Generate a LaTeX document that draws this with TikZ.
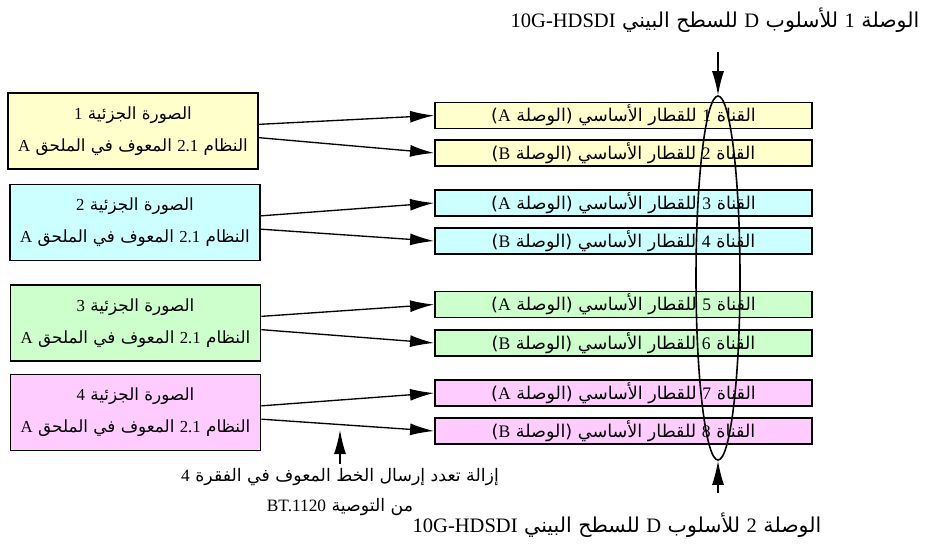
\documentclass[tikz,border=0pt]{standalone}
\usepackage{fontspec}
\setmainfont{Liberation Serif}
\newfontfamily\arabicfont[Script=Arabic]{DejaVu Sans}
\TeXXeTstate=1
\usepackage{tikz}
\usetikzlibrary{arrows.meta, shapes.geometric, positioning}

\definecolor{subyellow}{HTML}{FFFFCC}
\definecolor{subcyan}{HTML}{CCFFFF}
\definecolor{subgreen}{HTML}{CCFFCC}
\definecolor{submagenta}{HTML}{FFCCFF}

\newcommand\artxt[1]{{\arabicfont\beginR #1\endR}}
\newcommand\latn[1]{{\rmfamily #1}}

\begin{document}
\begin{tikzpicture}[
      x=0.75pt, y=-0.75pt,
      >={Latex[length=18pt,width=9pt]},
      subimg/.style = {
        draw,
        line width=1.4pt,
        minimum width=187.5pt,
        minimum height=57pt,
        align=center,
        font=\fontsize{12.6}{24}\selectfont
      },
      chan/.style = {
        draw,
        line width=1.4pt,
        minimum width=282.75pt,
        minimum height=19.5pt,
        inner sep=0pt,
        font=\fontsize{13.2}{14}\selectfont
      },
      feed/.style = {->, line width=1pt},
      lbl/.style = {font=\fontsize{15.4}{18}\selectfont, align=center}
    ]
    \useasboundingbox (0,0) rectangle (934,544);

    % sub-images
    \node[subimg, fill=subyellow]  (sub1) at (133,131)   {\artxt{الصورة الجزئية \latn{1}}\\\artxt{النظام \latn{2.1} المعوف في الملحق \latn{A}}};
    \node[subimg, fill=subcyan]    (sub2) at (135,222.5) {\artxt{الصورة الجزئية \latn{2}}\\\artxt{النظام \latn{2.1} المعوف في الملحق \latn{A}}};
    \node[subimg, fill=subgreen]   (sub3) at (135.5,323) {\artxt{الصورة الجزئية \latn{3}}\\\artxt{النظام \latn{2.1} المعوف في الملحق \latn{A}}};
    \node[subimg, fill=submagenta] (sub4) at (135.5,412.5) {\artxt{الصورة الجزئية \latn{4}}\\\artxt{النظام \latn{2.1} المعوف في الملحق \latn{A}}};

    % basic streams
    \node[chan, fill=subyellow]  (ch1) at (623.5,115.5) {\artxt{القناة \latn{1} للقطار الأساسي (الوصلة \latn{A})}};
    \node[chan, fill=subyellow]  (ch2) at (623.5,153)   {\artxt{القناة \latn{2} للقطار الأساسي (الوصلة \latn{B})}};
    \node[chan, fill=subcyan]    (ch3) at (623.5,203)   {\artxt{القناة \latn{3} للقطار الأساسي (الوصلة \latn{A})}};
    \node[chan, fill=subcyan]    (ch4) at (623.5,241)   {\artxt{القناة \latn{4} للقطار الأساسي (الوصلة \latn{B})}};
    \node[chan, fill=subgreen]   (ch5) at (623.5,304.5) {\artxt{القناة \latn{5} للقطار الأساسي (الوصلة \latn{A})}};
    \node[chan, fill=subgreen]   (ch6) at (623.5,343)   {\artxt{القناة \latn{6} للقطار الأساسي (الوصلة \latn{B})}};
    \node[chan, fill=submagenta] (ch7) at (623.5,393)   {\artxt{القناة \latn{7} للقطار الأساسي (الوصلة \latn{A})}};
    \node[chan, fill=submagenta] (ch8) at (623.5,431)   {\artxt{القناة \latn{8} للقطار الأساسي (الوصلة \latn{B})}};

    \node[draw, ellipse, line width=1.2pt, minimum width=33pt, minimum height=273pt, inner sep=0pt] (link) at (718,278) {};

    \draw[feed] ([yshift=5pt]sub1.east)  -- (ch1.west);
    \draw[feed] ([yshift=-5pt]sub1.east) -- (ch2.west);
    \draw[feed] ([yshift=5pt]sub2.east)  -- (ch3.west);
    \draw[feed] ([yshift=-5pt]sub2.east) -- (ch4.west);
    \draw[feed] ([yshift=5pt]sub3.east)  -- (ch5.west);
    \draw[feed] ([yshift=-5pt]sub3.east) -- (ch6.west);
    \draw[feed] ([yshift=5pt]sub4.east)  -- (ch7.west);
    \draw[feed] ([yshift=-5pt]sub4.east) -- (ch8.west);

    % links
    \node[lbl] (link1lbl) at (715,20) {\artxt{الوصلة \latn{1} للأسلوب \latn{D} للسطح البيني \latn{10G-HDSDI}}};
    \coordinate (link1in) at (718,52);
    \draw[feed] (link1in) -- (link.north);

    \node[lbl] (link2lbl) at (617,525) {\artxt{الوصلة \latn{2} للأسلوب \latn{D} للسطح البيني \latn{10G-HDSDI}}};
    \coordinate (link2in) at (718,493);
    \draw[feed] (link2in) -- (link.south);

    % demultiplexing note
    \node[lbl, font=\fontsize{13}{22}\selectfont] (demuxlbl) at (340,492) {\artxt{إزالة تعدد إرسال الخط المعوف في الفقرة \latn{4}}\\\artxt{من التوصية \latn{BT.1120}}};
    \coordinate (demux) at (340,430);
    \draw[feed] (demuxlbl.north) -- (demux);

  \end{tikzpicture}
\end{document}
